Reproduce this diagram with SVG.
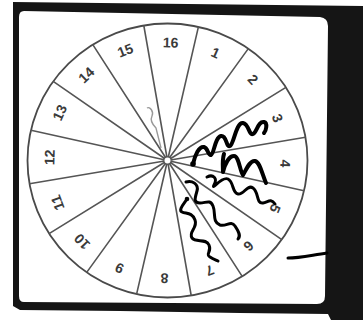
<svg xmlns="http://www.w3.org/2000/svg" width="363" height="320" viewBox="0 0 363 320">
<style>
.rim{fill:none;stroke:#4a4a4a;stroke-width:1.8}
.spk{fill:none;stroke:#555;stroke-width:1.6}
.num{font-family:"Liberation Sans",Arial,sans-serif;font-size:14px;font-weight:bold;fill:#3a3a3a;text-anchor:middle;dominant-baseline:central}
.sq{fill:none;stroke:#000;stroke-linecap:round;stroke-linejoin:round}
</style>
<rect width="363" height="320" fill="#fff"/>
<path id="frame" fill="#151515" fill-rule="evenodd" d="M13,2 L363,6 L363,320 L331,320 L328,314 L240,313 L120,311 L20,310 L13,306 Z M24,11 L320,17 Q328,18 328,26 L325,296 Q325,304 317,304 L24,302 Q19,302 19,296 L19,17 Q19,11 24,11 Z"/>
<g id="wheel">
<ellipse class="rim" cx="167.5" cy="160.5" rx="140" ry="137"/>
<path class="spk" d="M167.5,160.5 L198.4,26.9 M167.5,160.5 L248.3,48.6 M167.5,160.5 L285.9,87.4 M167.5,160.5 L305.5,137.3 M167.5,160.5 L304,190.7 M167.5,160.5 L281.8,239.6 M167.5,160.5 L242.2,276.4 M167.5,160.5 L191.2,295.5 M167.5,160.5 L136.6,294.1 M167.5,160.5 L86.7,272.4 M167.5,160.5 L49.1,233.6 M167.5,160.5 L29.5,183.7 M167.5,160.5 L31,130.3 M167.5,160.5 L53.2,81.4 M167.5,160.5 L92.8,44.6 M167.5,160.5 L143.8,25.5"/>
<circle cx="167.5" cy="160.5" r="3" fill="#fff"/>
<path d="M147,108 C150,106 154,112 152,116 C150,120 152,124 156,128 L161,148" fill="none" stroke="#999" stroke-width="1.4"/>
</g>
<g id="labels">
<text class="num" transform="translate(167.5,160.5) rotate(24) translate(0,-118)">1</text>
<text class="num" transform="translate(167.5,160.5) rotate(46.5) translate(0,-118)">2</text>
<text class="num" transform="translate(167.5,160.5) rotate(69) translate(0,-118)">3</text>
<text class="num" transform="translate(167.5,160.5) rotate(91.5) translate(0,-118)">4</text>
<text class="num" transform="translate(167.5,160.5) rotate(114) translate(0,-118)">5</text>
<text class="num" transform="translate(167.5,160.5) rotate(136.5) translate(0,-118)">6</text>
<text class="num" transform="translate(167.5,160.5) rotate(159) translate(0,-118)">7</text>
<text class="num" transform="translate(167.5,160.5) rotate(181.5) translate(0,-118)">8</text>
<text class="num" transform="translate(167.5,160.5) rotate(204) translate(0,-118)">9</text>
<text class="num" transform="translate(167.5,160.5) rotate(226.5) translate(0,-118)">10</text>
<text class="num" transform="translate(167.5,160.5) rotate(249) translate(0,-118)">11</text>
<text class="num" transform="translate(167.5,160.5) rotate(271.5) translate(0,-118)">12</text>
<text class="num" transform="translate(167.5,160.5) rotate(294) translate(0,-118)">13</text>
<text class="num" transform="translate(167.5,160.5) rotate(316.5) translate(0,-118)">14</text>
<text class="num" transform="translate(167.5,160.5) rotate(339) translate(0,-118)">15</text>
<text class="num" transform="translate(167.5,160.5) rotate(1.5) translate(0,-118)">16</text>
</g>
<g id="scribbles">
<path class="sq" stroke-width="4" d="M193,164 C195,155 199,146 204,147 C208,148 208,156 211,155 C214,154 215,137 221,136 C227,135 226,148 230,146 C234,144 236,122 243,123 C249,124 249,136 253,134 C257,132 258,121 264,122 C268,123 266,131 264,133"/>
<circle cx="193" cy="164" r="2.8" fill="#000"/>
<path class="sq" stroke-width="4" d="M224,154 C222,160 223,168 223,172 C225,164 229,156 234,156 C239,156 240,172 243,175 C246,170 250,160 255,161 C260,162 262,174 266,183"/>
<path class="sq" stroke-width="3" d="M207,177 C213,174 218,178 214,185 C211,191 222,176 228,179 C234,182 232,193 238,194 C244,195 247,184 253,188 C259,192 256,204 263,203 C268,202 271,198 275,204"/>
<path class="sq" stroke-width="3" d="M186,182 C192,180 199,184 197,191 C195,198 193,203 200,203 C206,203 210,199 213,206 C216,213 212,222 220,225 C226,227 231,220 235,226 C239,232 241,236 238,239"/>
<path class="sq" stroke-width="3" d="M187,199 C184,204 178,210 182,212 C186,214 192,212 195,220 C198,228 188,232 192,238 C196,243 206,238 209,245 C212,252 205,254 210,257 C213,259 216,260 218,261"/>
<circle cx="187" cy="199" r="2.3" fill="#000"/>
<path class="sq" stroke-width="3" d="M288,258 C300,258 312,255 327,253"/>
</g>
</svg>
